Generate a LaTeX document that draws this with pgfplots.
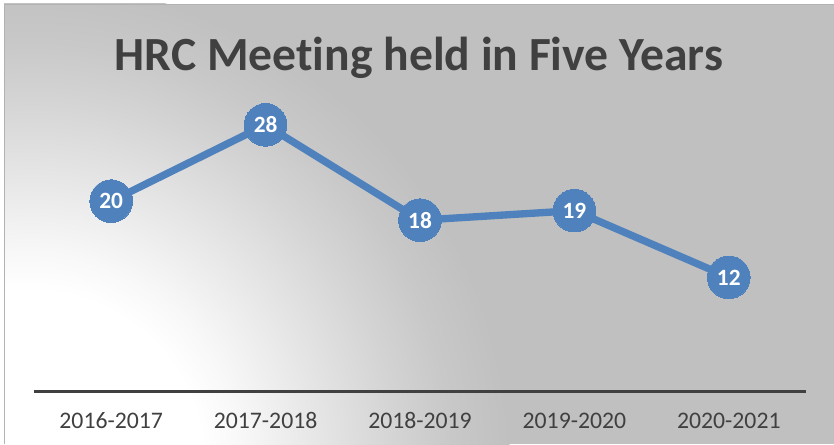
\documentclass[border=0pt]{standalone}
\usepackage{pgfplots}
\pgfplotsset{compat=1.18}
\usepackage{fontspec}
\setmainfont{Carlito}[Ligatures=CommonOff]
\definecolor{lineblue}{HTML}{4F81BD}
\definecolor{txtgray}{HTML}{404040}
\definecolor{bgC0}{HTML}{C0C0C0}
\definecolor{bgC8}{HTML}{C8C8C8}
\definecolor{bgD4}{HTML}{D4D4D4}
\definecolor{bgE6}{HTML}{E6E6E6}
\definecolor{bgF8}{HTML}{F8F8F8}
\pgfdeclareradialshading{bgshade}{\pgfpoint{0bp}{0bp}}{%
  color(0bp)=(white); color(9bp)=(white); color(11bp)=(bgF8); color(15bp)=(bgE6);
  color(19bp)=(bgD4); color(22bp)=(bgC8); color(25bp)=(bgC0); color(50bp)=(bgC0)}
\begin{document}
\begin{tikzpicture}[x=0.75pt,y=0.75pt]
\useasboundingbox (0,0) rectangle (834,444);
\fill[white] (0,0) rectangle (834,444);
\begin{scope}
  \clip (4,0) rectangle (834,440);
  \fill[bgC0] (4,0) rectangle (834,440);
  \shade[shading=bgshade] (30,-20) circle (480);
\end{scope}
\draw[gray!60, line width=0.5pt] (4,0) -- (4,440) -- (834,440);
\begin{axis}[
  at={(25.5pt,39.225pt)}, anchor=south west,
  scale only axis,
  width=579pt, height=214.4pt,
  xmin=-0.5, xmax=4.5, ymin=0, ymax=30,
  clip=false,
  axis y line=none,
  axis x line*=bottom,
  x axis line style={line width=2.5pt, color=txtgray, -},
  xtick={0,1,2,3,4},
  xticklabels={2016-2017,2017-2018,2018-2019,2019-2020,2020-2021},
  major tick length=0pt,
  xticklabel style={anchor=base, yshift=-27.8pt, text=txtgray,
    font=\fontsize{17.8pt}{18pt}\selectfont},
  /pgf/number format/assume math mode=true,
  nodes near coords,
  nodes near coords style={anchor=center, text=white,
    font=\bfseries\fontsize{17.5pt}{18pt}\selectfont},
]
\addplot[color=lineblue, line width=5.5pt, mark=*,
  mark options={fill=lineblue, draw=lineblue, line width=0pt}, mark size=16pt]
  coordinates {(0,20) (1,28) (2,18) (3,19) (4,12)};
\end{axis}
\node[anchor=base, text=txtgray, font=\bfseries\fontsize{35.7pt}{37pt}\selectfont]
  at (419,374) {HRC Meeting held in Five Years};
\end{tikzpicture}
\end{document}
